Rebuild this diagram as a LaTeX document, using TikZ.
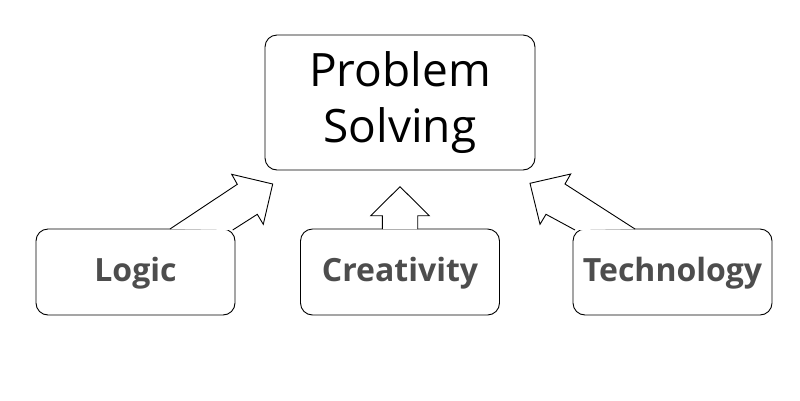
\documentclass[tikz,border=0pt]{standalone}
\usepackage{fontspec}
\setmainfont{Open Sans}
\definecolor{labelgray}{HTML}{4D4D4D}
\tikzset{
  box/.style={draw=black, line width=0.9pt, rounded corners=12pt, inner sep=0pt},
  lowbox/.style={box, minimum width=199pt, minimum height=86pt,
    font=\fontsize{32}{38}\selectfont\bfseries, text=labelgray,
    text height=23pt, text depth=4pt},
  blockarrow/.style={draw=black, line width=0.9pt, fill=white, line join=miter}
}
\begin{document}
\begin{tikzpicture}[x=1pt,y=-1pt]
\useasboundingbox (0,0) rectangle (800,400);
\node[box, minimum width=270pt, minimum height=135pt, align=center,
      font=\fontsize{46}{56.7}\selectfont] (ps) at (400,102.5) {Problem\\Solving};
\node[lowbox] (logic) at (135.5,272) {Logic};
\node[lowbox] (crea) at (400,272) {Creativity};
\node[lowbox] (tech) at (672.5,272) {Technology};
% block arrows
\draw[blockarrow] (170,229) -- (237.3,184.3) -- (231.7,174.3) -- (272.7,184) -- (263.3,224.3) -- (257.3,214.3) -- (232.7,230);
\draw[blockarrow] (382.3,229) -- (382.3,215.7) -- (370.7,215.7) -- (400,186.7) -- (429.3,215.7) -- (417.7,215.7) -- (417.7,229);
\draw[blockarrow] (635,229) -- (565,184) -- (570.7,174) -- (530,183.3) -- (540,224.3) -- (546,214.3) -- (575,230);
\end{tikzpicture}
\end{document}
